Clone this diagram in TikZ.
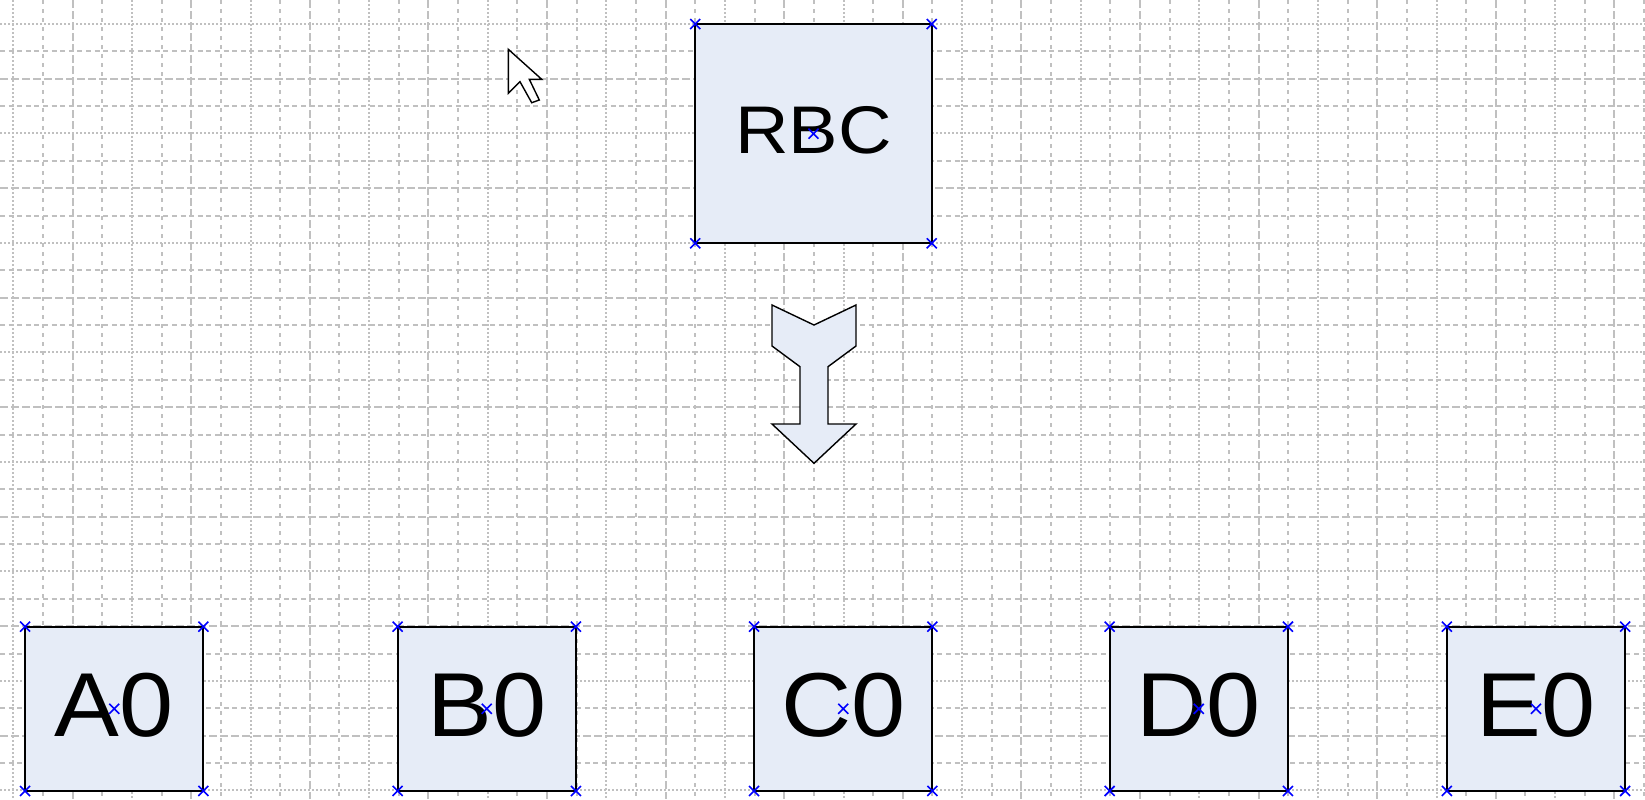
\documentclass[tikz,border=0pt]{standalone}
\usepackage{fontspec}
\setmainfont{Liberation Sans}
\usepackage{graphicx}
\definecolor{boxfill}{RGB}{230,236,247}
\definecolor{gridgray}{RGB}{192,192,192}
\definecolor{mkblue}{RGB}{0,0,255}
\tikzset{
  mk/.pic={\draw[mkblue,line width=0.8pt] (-5,-5) -- (5,5) (-5,5) -- (5,-5);},
  gdot/.style={draw=gridgray,line width=1pt,dash pattern=on 1pt off 1pt},
  gmed/.style={draw=gridgray,line width=1pt,dash pattern=on 2.5pt off 1.8pt},
  glong/.style={draw=gridgray,line width=1pt,dash pattern=on 4pt off 1.5pt},
  gsparse/.style={draw=gridgray,line width=1pt,dash pattern=on 2pt off 2.5pt},
  bigbox/.style={draw=black,fill=boxfill,line width=1.1pt,outer sep=0pt,inner sep=0pt,
    minimum width=118.25pt,minimum height=109.65pt,
    font=\fontsize{33.7}{40}\selectfont,text height=24pt,text depth=4.4pt},
  smallbox/.style={draw=black,fill=boxfill,line width=1.1pt,outer sep=0pt,inner sep=0pt,
    minimum width=89.15pt,minimum height=82.15pt,
    font=\fontsize{45.4}{50}\selectfont,text height=32.5pt,text depth=5.3pt},
  bigarrow/.style={draw=black,fill=boxfill,line width=0.7pt,line join=miter},
  cursor/.style={draw=black,fill=white,line width=0.7pt,line join=miter}
}
\begin{document}
\begin{tikzpicture}[x=0.5pt,y=-0.5pt]
\useasboundingbox (0,0) rectangle (1645,799);
\fill[white] (0,0) rectangle (1645,799);
\begin{scope}
\clip (0,0) rectangle (1645,799);
\foreach \k in {0,...,13}{
  \draw[gdot] ({13.3+118.6*\k},0) -- ++(0,799);
  \draw[gsparse] ({42.95+118.6*\k},0) -- ++(0,799);
  \draw[glong] ({72.6+118.6*\k},0) -- ++(0,799);
  \draw[gsparse] ({102.25+118.6*\k},0) -- ++(0,799);
}
\foreach \k in {0,...,7}{
  \draw[gdot] (0,{24+109.48*\k}) -- ++(1645,0);
  \draw[gmed] (0,{51.37+109.48*\k}) -- ++(1645,0);
  \draw[glong] (0,{78.74+109.48*\k}) -- ++(1645,0);
  \draw[gmed] (0,{106.11+109.48*\k}) -- ++(1645,0);
}
\end{scope}

\node[bigbox] (rbc) at (813.5,133.7) {\scalebox{1.1}[1]{RBC}};
\node[smallbox] (a0) at (114.2,708.8) {\scalebox{1.07}[1]{A0}};
\node[smallbox] (b0) at (486.8,708.8) {\scalebox{1.07}[1]{B0}};
\node[smallbox] (c0) at (843.2,708.8) {\scalebox{1.07}[1]{C0}};
\node[smallbox] (d0) at (1198.8,708.8) {\scalebox{1.07}[1]{D0}};
\node[smallbox] (e0) at (1536,708.8) {\scalebox{1.07}[1]{E0}};

\foreach \n in {rbc,a0,b0,c0,d0,e0}{
  \foreach \a in {north west,north east,south west,south east,center}{
    \pic at (\n.\a) {mk};
  }
}

\draw[bigarrow] (772,305) -- (814,325) -- (856,305) -- (856,346) -- (828,366.7)
  -- (828,424) -- (856,424) -- (814,463.3) -- (772,424) -- (800,424)
  -- (800,366.7) -- (772,346) -- cycle;

\draw[cursor] (508.3,49.3) -- (508.3,93.3) -- (520,81.7) -- (531.7,102.7)
  -- (539.3,100) -- (529.3,79.3) -- (541.7,79.3) -- cycle;
\end{tikzpicture}
\end{document}
